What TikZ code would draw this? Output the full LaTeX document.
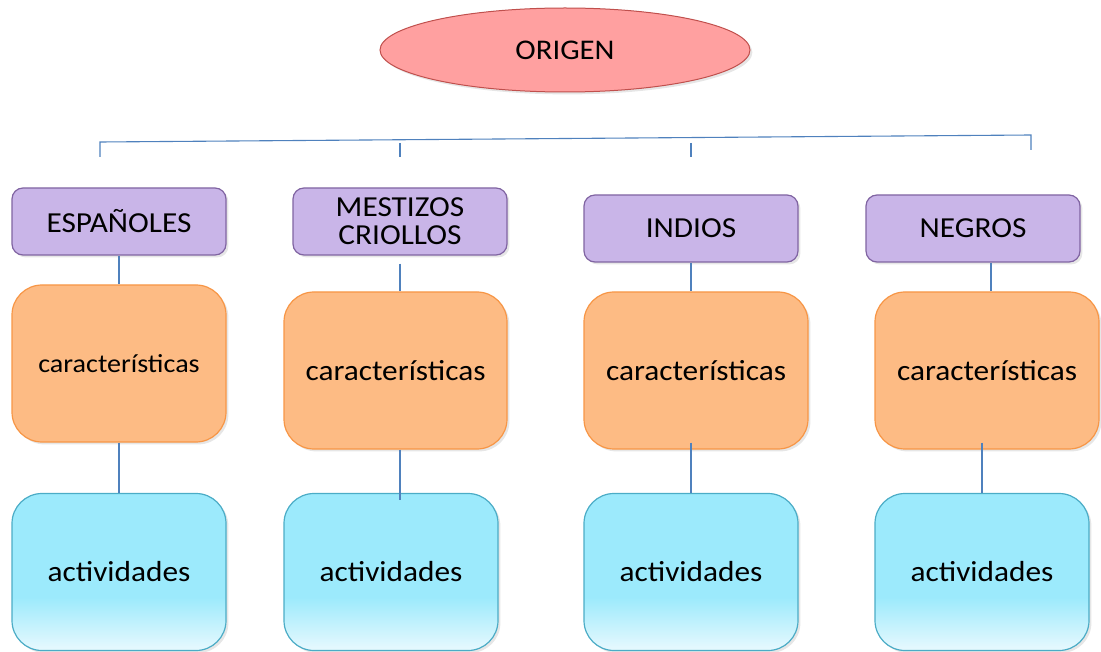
\documentclass[tikz,border=0pt]{standalone}
\usepackage{fontspec}
\setmainfont{Carlito}[FakeStretch=1.08]
\usepackage{tikz}
\usetikzlibrary{shapes.geometric, shadows}
\definecolor{origenfill}{RGB}{255,160,160}
\definecolor{origenborde}{RGB}{192,80,77}
\definecolor{grupofill}{RGB}{201,181,232}
\definecolor{grupoborde}{RGB}{128,100,162}
\definecolor{carfill}{RGB}{253,187,132}
\definecolor{carborde}{RGB}{247,150,70}
\definecolor{acttop}{RGB}{156,234,252}
\definecolor{actbottom}{RGB}{232,249,254}
\definecolor{actborde}{RGB}{75,172,198}
\definecolor{lineacolor}{RGB}{79,129,189}
\pgfdeclareverticalshading{actshade}{100bp}{color(0bp)=(actbottom); color(25bp)=(actbottom); color(42bp)=(acttop); color(100bp)=(acttop)}

\begin{document}
\begin{tikzpicture}[x=1pt, y=-1pt,
    origen/.style={ellipse, draw=origenborde, fill=origenfill, line width=1pt, minimum width=370pt, minimum height=84pt, font=\fontsize{28.5}{30}\selectfont, drop shadow={opacity=0.2}},
    grupo/.style={rectangle, rounded corners=11pt, draw=grupoborde, fill=grupofill, line width=1.2pt, minimum width=214pt, minimum height=67pt, align=center, font=\fontsize{29}{28}\selectfont, drop shadow={opacity=0.2}},
    caract/.style={rectangle, rounded corners=30pt, draw=carborde, fill=carfill, line width=1.2pt, minimum width=224pt, minimum height=157pt, align=center, font=\fontsize{29}{31}\selectfont, drop shadow={opacity=0.2}},
    activ/.style={rectangle, rounded corners=30pt, draw=actborde, shading=actshade, line width=1.2pt, minimum width=214pt, minimum height=157pt, align=center, font=\fontsize{29}{31}\selectfont, drop shadow={opacity=0.2}},
    linea/.style={draw=lineacolor, line width=1.1pt}
]
\useasboundingbox (0,0) rectangle (1101,652);

\node[origen] (origen) at (565,50) {ORIGEN};

\coordinate (llave1) at (100,142);
\coordinate (llave4) at (1031,135);
\coordinate (llave2) at (400,143);
\coordinate (llave3) at (691,143);

\node[grupo] (esp) at (119,221.5) {ESPAÑOLES};
\node[grupo] (mes) at (400,221.5) {MESTIZOS\\CRIOLLOS};
\node[grupo] (ind) at (691,228.5) {INDIOS};
\node[grupo] (neg) at (973,228.5) {NEGROS};

\node[caract, minimum width=214pt, font=\fontsize{26}{28}\selectfont] (car1) at (119,363.5) {características};
\node[caract, minimum width=223pt] (car2) at (395.5,370.5) {características};
\node[caract] (car3) at (696,370.5) {características};
\node[caract] (car4) at (987,370.5) {características};

\node[activ] (act1) at (119,572) {actividades};
\node[activ] (act2) at (391,572) {actividades};
\node[activ] (act3) at (691,572) {actividades};
\node[activ] (act4) at (982,572) {actividades};

\draw[linea] ([yshift=-15pt]llave1) -- (llave1) -- (llave4) -- ([yshift=-15pt]llave4);
\draw[linea] (llave2) -- ([yshift=-14pt]llave2);
\draw[linea] (llave3) -- ([yshift=-14pt]llave3);

\draw[linea] (esp.south) -- (car1.north);
\draw[linea] ([yshift=-8pt]mes.south) -- (mes.south |- car2.north);
\draw[linea] (ind.south) -- (ind.south |- car3.north);
\draw[linea] ([xshift=18pt]neg.south) -- ([xshift=18pt]neg.south |- car4.north);

\draw[linea] (car1.south) -- (act1.north);
\draw[linea] (mes.south |- car2.south) -- ([yshift=-7pt]mes.south |- act2.north);
\draw[linea] ([yshift=7pt]act3.north |- car3.south) -- (act3.north);
\draw[linea] ([yshift=7pt]act4.north |- car4.south) -- (act4.north);

\end{tikzpicture}
\end{document}
